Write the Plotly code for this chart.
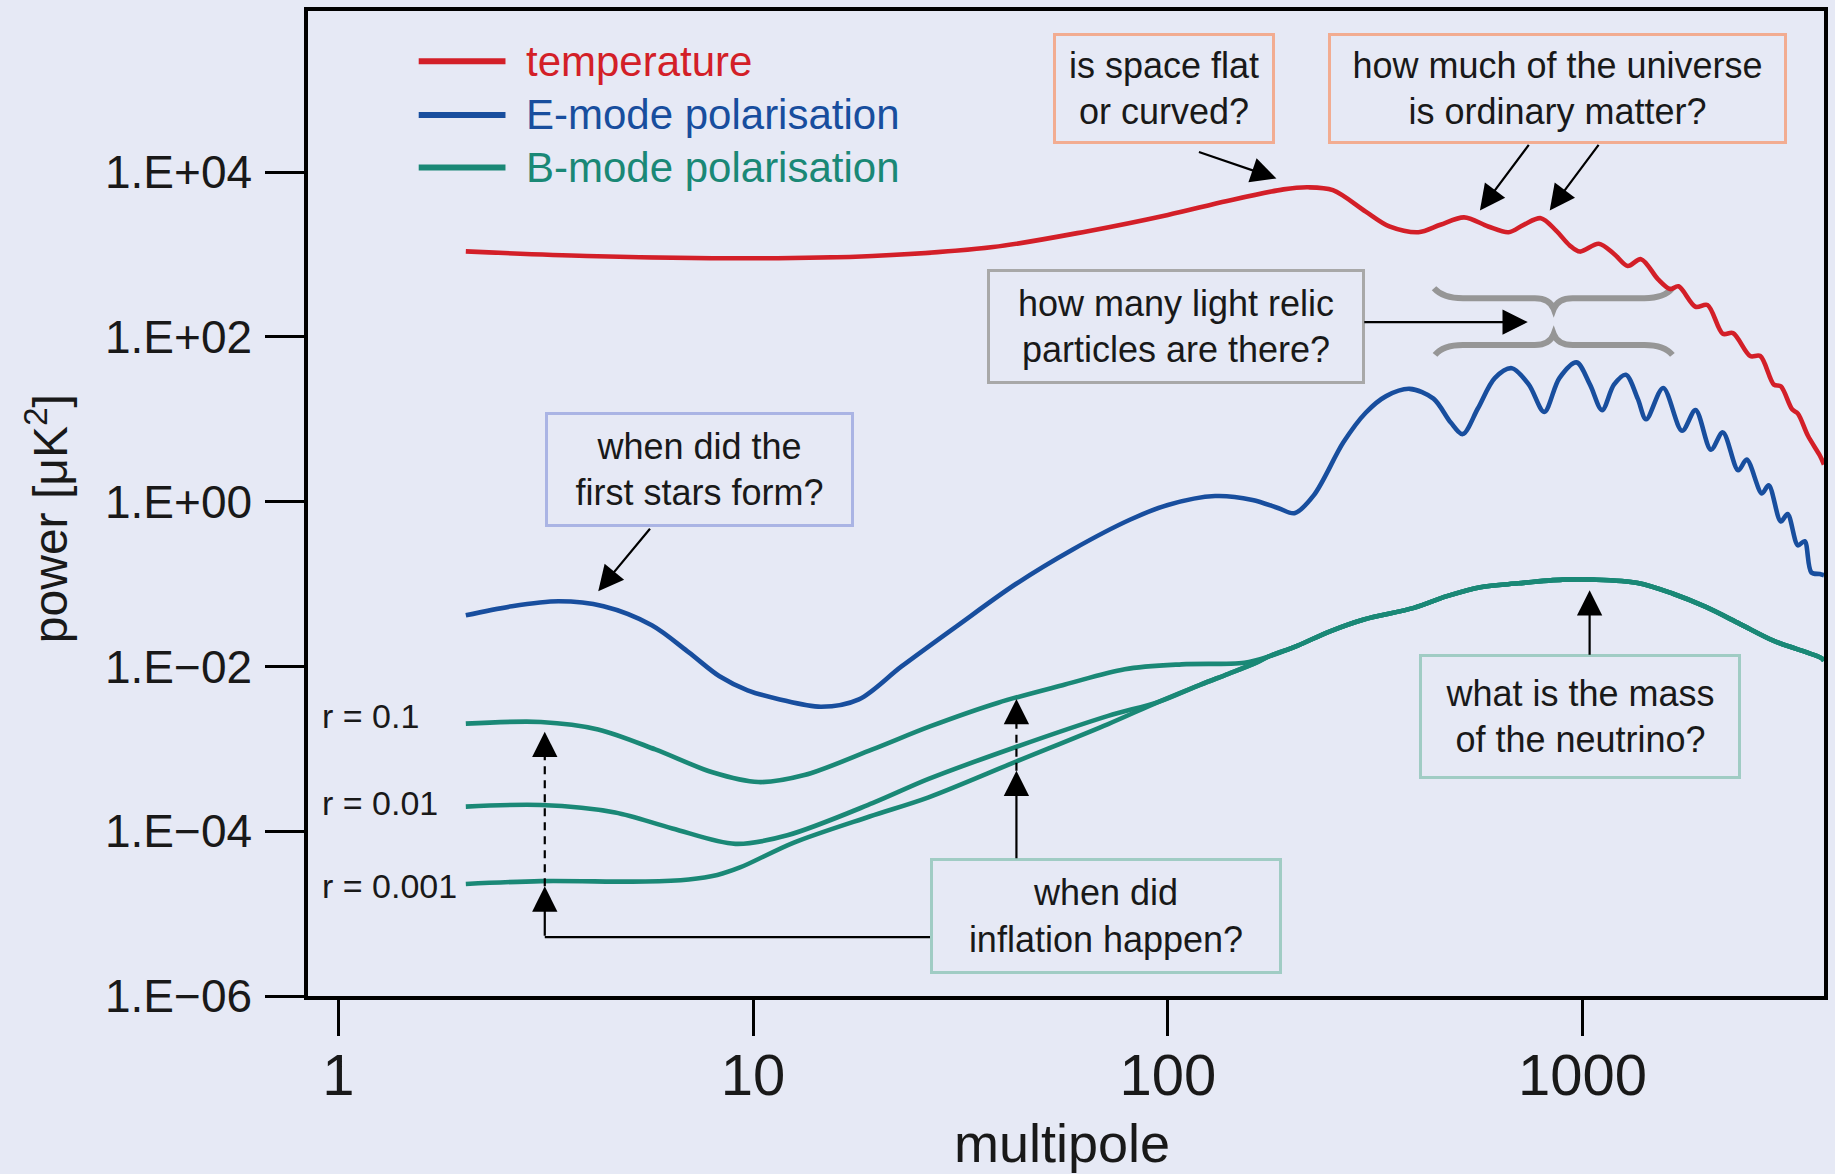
import plotly.graph_objects as go

# ---------------- spectra: multipole ell, power D_ell in uK^2 ----------------
temperature_ell = [2.03, 3.97, 10.3, 19.4, 37.9, 63.7, 100, 139, 190, 218, 250, 300,
                   342, 402, 454, 518, 592, 663, 721, 793, 863, 931, 985, 1094, 1191, 1284,
                   1383, 1521, 1625, 1703, 1872, 2000, 2178, 2305, 2535, 2681, 2892, 3005,
                   3200, 3304, 3494, 3732, 3819]
temperature_power = [1090, 959, 899, 959, 1230, 1905, 3020, 4467, 6166, 6531, 6026, 3311,
                     2188, 1862, 2291, 2818, 2188, 1862, 2291, 2754, 1950, 1288, 1084, 1349, 1014, 726,
                     877, 498, 380, 411, 232, 244, 109, 111, 58.5, 58.5, 26.3, 25.1,
                     13.2, 11.7, 6.3, 3.63, 2.82]

emode_ell = [2.03, 2.62, 3.4, 4.36, 5.7, 7.0, 8.3, 9.7, 11.6, 14.6, 18.0, 22.8, 31, 43, 59, 81,
             100, 130, 160, 185, 202, 225, 265, 300, 336, 383, 437, 481, 514, 559, 614, 675,
             742, 808, 879, 967, 1042, 1114, 1190, 1271, 1358, 1423, 1564, 1737, 1872, 2039,
             2178, 2372, 2487, 2705, 2810, 3005, 3120, 3304, 3430, 3560, 3732, 3819]
emode_power = [0.0417, 0.0537, 0.0617, 0.0537, 0.0316, 0.0148, 0.00759, 0.00513, 0.00398,
               0.00324, 0.00398, 0.0100, 0.0309, 0.100, 0.263, 0.603, 0.912, 1.17, 1.05, 0.832,
               0.724, 1.20, 5.25, 12.0, 19.1, 23.4, 17.8, 9.12, 6.61, 13.5, 31.6, 41.7, 26.3,
               12.3, 31.6, 49.0, 26.3, 12.9, 26.3, 34.7, 17.8, 10.0, 24.0, 7.24, 12.9, 4.27,
               6.92, 2.40, 3.24, 1.26, 1.58, 0.575, 0.708, 0.295, 0.331, 0.138, 0.132, 0.128]

# B-mode, primordial part for each tensor-to-scalar ratio
bmode_r01_ell = [2.03, 3.08, 4.23, 5.81, 7.98, 10.3, 13.3, 19.4, 26.7, 39, 56.5, 78.7, 108, 153]
bmode_r01_power = [0.00202, 0.00212, 0.00172, 0.000984, 0.000519, 0.000395, 0.000480,
                   0.000984, 0.00187, 0.00363, 0.00603, 0.00925, 0.0106, 0.0111]

bmode_r001_ell = [2.03, 3.08, 4.65, 6.39, 9.07, 12.1, 19.4, 26.5, 43.2, 71.8]
bmode_r001_power = [0.000199, 0.000208, 0.000169, 0.000108, 0.0000703, 0.0000893,
                    0.000219, 0.000431, 0.00106, 0.00251]

bmode_r0001_ell = [2.03, 3.08, 5.5, 7.0, 8.2, 9.3, 12.5, 19.1, 26.5, 43.2, 71.8]
bmode_r0001_power = [0.0000229, 0.0000248, 0.0000245, 0.0000260, 0.0000295, 0.0000363,
                     0.0000724, 0.000151, 0.000258, 0.000705, 0.00200]

# where r=0.01 and r=0.001 have merged
bmode_mid_ell = [95, 120, 140, 164]
bmode_mid_power = [0.00372, 0.00603, 0.00813, 0.0112]

# lensing-dominated tail shared by all three
bmode_lens_ell = [175, 205, 247, 297, 392, 471, 567, 700, 896, 1062, 1358, 1641, 1982,
                  2393, 2892, 3767, 3819]
bmode_lens_power = [0.0132, 0.0178, 0.0269, 0.0372, 0.0514, 0.0713, 0.0916, 0.102, 0.113,
                    0.113, 0.103, 0.0773, 0.0527, 0.0329, 0.0204, 0.0126, 0.0117]

series_names = ["temperature", "E-mode polarisation", "B-mode polarisation"]
r_labels = ["r = 0.1", "r = 0.01", "r = 0.001"]

x_tick_vals = [1, 10, 100, 1000]
x_tick_text = ["1", "10", "100", "1000"]
y_tick_vals = [1e4, 1e2, 1, 1e-2, 1e-4, 1e-6]
y_tick_text = ["1.E+04", "1.E+02", "1.E+00", "1.E\u221202", "1.E\u221204", "1.E\u221206"]

# ---------------- styling ----------------
W, H = 1835, 1174
ML, MR, MT, MB = 308, 7, 8, 178
PW, PH = W - ML - MR, H - MT - MB
BG = "rgb(230,233,245)"
RED = "rgb(211,31,40)"
BLUE = "rgb(24,78,158)"
TEAL = "rgb(26,136,118)"
INK = "rgb(25,25,25)"
FONT = "Liberation Sans, Arial, Helvetica, sans-serif"


def px(x):
    return (x - ML) / PW


def py(y):
    return 1 - (y - MT) / PH


fig = go.Figure()

line_w = 4.6
fig.add_trace(go.Scatter(x=temperature_ell, y=temperature_power, mode="lines",
                         line=dict(color=RED, width=line_w, shape="spline", smoothing=0.9),
                         name=series_names[0], showlegend=False))
fig.add_trace(go.Scatter(x=emode_ell, y=emode_power, mode="lines",
                         line=dict(color=BLUE, width=line_w, shape="spline", smoothing=0.9),
                         name=series_names[1], showlegend=False))

b_curves = [
    (bmode_r01_ell + bmode_lens_ell, bmode_r01_power + bmode_lens_power),
    (bmode_r001_ell + bmode_mid_ell + bmode_lens_ell,
     bmode_r001_power + bmode_mid_power + bmode_lens_power),
    (bmode_r0001_ell + bmode_mid_ell + bmode_lens_ell,
     bmode_r0001_power + bmode_mid_power + bmode_lens_power),
]
for (bx, by), lab in zip(b_curves, r_labels):
    fig.add_trace(go.Scatter(x=bx, y=by, mode="lines",
                             line=dict(color=TEAL, width=line_w, shape="spline", smoothing=0.9),
                             name=series_names[2] + " " + lab, showlegend=False))

shapes = []
annotations = []

# legend drawn by hand (long line samples)
for name, col, yy in zip(series_names, [RED, BLUE, TEAL], [58.5, 112.3, 165]):
    shapes.append(dict(type="line", xref="paper", yref="paper",
                       x0=px(419), x1=px(506), y0=py(yy), y1=py(yy),
                       line=dict(color=col, width=6)))
    annotations.append(dict(xref="paper", yref="paper", x=px(525), y=py(yy),
                            xanchor="left", yanchor="middle", showarrow=False,
                            text=name, font=dict(family=FONT, size=42, color=col)))

# r labels
for lab, yy in zip(r_labels, [715, 802, 886]):
    annotations.append(dict(xref="paper", yref="paper", x=px(320), y=py(yy),
                            xanchor="left", yanchor="middle", showarrow=False,
                            text=lab, font=dict(family=FONT, size=34, color=INK)))

# question boxes
boxes = [
    ("is space flat<br>or curved?", 1057, 1276, 32, 140, "rgb(242,172,145)"),
    ("how much of the universe<br>is ordinary matter?", 1333, 1789, 32, 140, "rgb(242,172,145)"),
    ("how many light relic<br>particles are there?", 991, 1366, 268, 380, "rgb(168,168,168)"),
    ("when did the<br>first stars form?", 548, 854, 412, 524, "rgb(170,180,228)"),
    ("what is the mass<br>of the neutrino?", 1424, 1743, 655, 777, "rgb(160,204,196)"),
    ("when did<br>inflation happen?", 934, 1283, 859, 972, "rgb(160,204,196)"),
]
for txt, x0, x1, y0, y1, col in boxes:
    annotations.append(dict(xref="paper", yref="paper", x=px((x0 + x1) / 2), y=py((y0 + y1) / 2),
                            xanchor="center", yanchor="middle", showarrow=False,
                            text=txt, align="center",
                            width=x1 - x0 - 3, height=y1 - y0 - 3,
                            bordercolor=col, borderwidth=3, borderpad=0,
                            font=dict(family=FONT, size=36, color=INK)))


def arrow(tail, head):
    (tx, ty), (hx, hy) = tail, head
    annotations.append(dict(xref="paper", yref="paper", x=px(hx), y=py(hy),
                            ax=tx - hx, ay=ty - hy, axref="pixel", ayref="pixel",
                            text="", showarrow=True, arrowhead=2, arrowsize=2.3,
                            arrowwidth=2.2, arrowcolor="black", standoff=0))


arrow((1200, 149), (1279, 176))
arrow((1533, 141), (1483, 208))
arrow((1603, 141), (1553, 208))
arrow((1366, 320), (1531, 320))
arrow((652, 526), (599, 590))
arrow((1593, 655), (1593, 589))

# inflation: solid arrows to r=0.001, dashed arrows on to r=0.1
xl, xr = 545.4, 1018.3
shapes.append(dict(type="line", xref="paper", yref="paper", x0=px(934), x1=px(xl),
                   y0=py(937), y1=py(937), line=dict(color="black", width=2.2)))
arrow((xl, 937), (xl, 886))
arrow((xr, 859), (xr, 770))
for x, ya, yb in [(xl, 886, 748), (xr, 770, 716)]:
    shapes.append(dict(type="line", xref="paper", yref="paper", x0=px(x), x1=px(x),
                       y0=py(ya), y1=py(yb),
                       line=dict(color="black", width=2.2, dash="8px,6px")))
arrow((xl, 751), (xl, 731))
arrow((xr, 718), (xr, 698))


# curly braces around the damping tail
def path_px(cmds):
    out = []
    for c in cmds:
        if isinstance(c, str):
            out.append(c)
        else:
            out.append("%.5f,%.5f" % (px(c[0]), py(c[1])))
    return " ".join(out)


brace_top = path_px(["M", (1437, 286), "Q", (1446, 296), (1466, 296), "L", (1538, 296),
                     "Q", (1553, 296), (1557, 307), "Q", (1561, 296), (1576, 296),
                     "L", (1648, 296), "Q", (1668, 296), (1676, 286)])
brace_bot = path_px(["M", (1438, 353), "Q", (1446, 343), (1466, 343), "L", (1538, 343),
                     "Q", (1553, 343), (1557, 332), "Q", (1561, 343), (1576, 343),
                     "L", (1648, 343), "Q", (1668, 343), (1676, 353)])
for p in (brace_top, brace_bot):
    shapes.append(dict(type="path", xref="paper", yref="paper", path=p,
                       line=dict(color="rgb(150,150,150)", width=6), layer="below"))

# axis titles
annotations.append(dict(xref="paper", yref="paper", x=px(1064), y=py(1143),
                        xanchor="center", yanchor="middle", showarrow=False,
                        text="multipole", font=dict(family=FONT, size=54, color=INK)))
annotations.append(dict(xref="paper", yref="paper", x=px(47), y=py(517),
                        xanchor="center", yanchor="middle", showarrow=False, textangle=-90,
                        text="power [\u03bcK<sup>2</sup>]", font=dict(family=FONT, size=48, color=INK)))

fig.update_layout(
    width=W, height=H,
    margin=dict(l=ML, r=MR, t=MT, b=MB),
    paper_bgcolor=BG, plot_bgcolor=BG,
    shapes=shapes, annotations=annotations,
    showlegend=False,
    xaxis=dict(type="log", range=[-0.073, 3.582], tickvals=x_tick_vals, ticktext=x_tick_text,
               ticks="outside", ticklen=36, tickwidth=2.5, tickcolor="black",
               showline=True, linecolor="black", linewidth=3.5, mirror=True,
               showgrid=False, zeroline=False, ticklabelstandoff=-10,
               tickfont=dict(family=FONT, size=58, color=INK)),
    yaxis=dict(type="log", range=[-6, 5.955], tickvals=y_tick_vals, ticktext=y_tick_text,
               ticks="outside", ticklen=39, tickwidth=2.5, tickcolor="black",
               showline=True, linecolor="black", linewidth=3.5, mirror=True,
               showgrid=False, zeroline=False, ticklabelstandoff=4,
               tickfont=dict(family=FONT, size=46, color=INK)),
)

fig.write_html("out.html")
